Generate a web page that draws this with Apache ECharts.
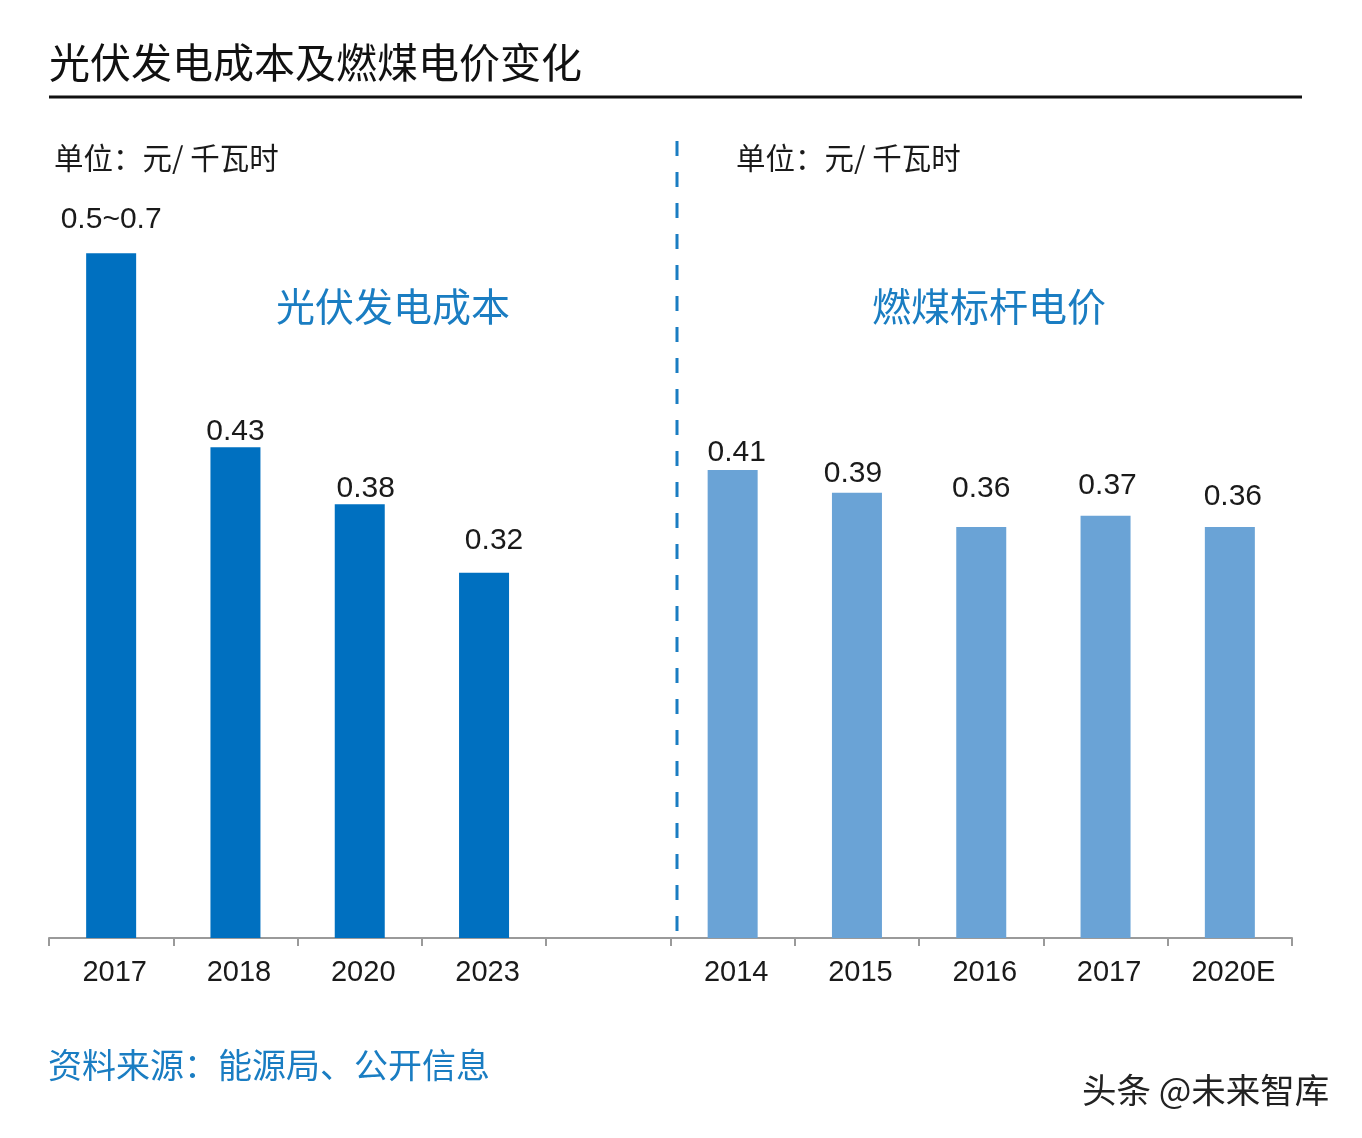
<!DOCTYPE html>
<html>
<head>
<meta charset="utf-8">
<script src="https://cdn.jsdelivr.net/npm/echarts@6/dist/echarts.min.js"></script>
<style>
html,body{margin:0;padding:0;background:#fff;}
#c{width:1362px;height:1138px;}
</style>
</head>
<body>
<div id="c"></div>
<script>
var categories = ['2017', '2018', '2020', '2023', '', '2014', '2015', '2016', '2017', '2020E'];
var pvCost = [0.6, 0.43, 0.38, 0.32];
var pvCostLabels = ['0.5~0.7', '0.43', '0.38', '0.32'];
var coalPrice = [0.41, 0.39, 0.36, 0.37, 0.36];
var coalPriceLabels = ['0.41', '0.39', '0.36', '0.37', '0.36'];

// label style nudges (distance above bar, horizontal offset)
var pvLabelDist = [18, 0, 1, 17];
var pvLabelDx = [0, 0, 6, 10];
var coalLabelDist = [2, 4, 23, 15, 15];
var coalLabelDx = [4, -4, 0, 2, 3];

var CJK = '"Noto Sans CJK SC", "Noto Sans", sans-serif';
var NUM = '"Liberation Sans", Arial, sans-serif';
var BLUE_TXT = '#1A7DC2';

var pvData = categories.map(function (c, i) {
  if (i < pvCost.length) {
    return {
      value: pvCost[i],
      label: { formatter: pvCostLabels[i], distance: pvLabelDist[i], offset: [pvLabelDx[i], 0] }
    };
  }
  return '-';
});
var coalStart = categories.length - coalPrice.length;
var coalData = categories.map(function (c, i) {
  var k = i - coalStart;
  if (k >= 0) {
    return {
      value: coalPrice[k],
      label: { formatter: coalPriceLabels[k], distance: coalLabelDist[k], offset: [coalLabelDx[k], 0] }
    };
  }
  return '-';
});

var chart = echarts.init(document.getElementById('c'), null, { renderer: 'canvas' });
chart.setOption({
  backgroundColor: '#ffffff',
  animation: false,
  grid: { left: 49, right: 70, top: 139, bottom: 200, containLabel: false },
  xAxis: {
    type: 'category',
    data: categories,
    axisLine: { show: true, lineStyle: { color: '#9a9a9a', width: 2 } },
    axisTick: { show: true, length: 8, lineStyle: { color: '#9a9a9a', width: 2 } },
    axisLabel: { color: '#1a1a1a', fontSize: 29, fontFamily: NUM, margin: 20, padding: [0, 0, 0, 7] },
    splitLine: { show: false }
  },
  yAxis: {
    type: 'value',
    min: 0,
    max: 0.7,
    show: false,
    splitLine: { show: false }
  },
  series: [
    {
      name: '光伏发电成本',
      type: 'bar',
      data: pvData,
      barWidth: 50,
      barGap: '-100%',
      itemStyle: { color: '#0070C0' },
      label: { show: true, position: 'top', color: '#1a1a1a', fontSize: 30, fontFamily: NUM }
    },
    {
      name: '燃煤标杆电价',
      type: 'bar',
      data: coalData,
      barWidth: 50,
      barGap: '-100%',
      itemStyle: { color: '#6AA3D6' },
      label: { show: true, position: 'top', color: '#1a1a1a', fontSize: 30, fontFamily: NUM }
    }
  ],
  graphic: [
    {
      type: 'text', left: 49, top: 42,
      style: { text: '光伏发电成本及燃煤电价变化', fill: '#111', font: '41px ' + CJK }
    },
    {
      type: 'line',
      shape: { x1: 49, y1: 97, x2: 1302, y2: 97 },
      style: { stroke: '#111', lineWidth: 3 }
    },
    {
      type: 'text', left: 54, top: 143,
      style: { text: '单位：元/ 千瓦时', fill: '#1a1a1a', font: '29.5px ' + CJK }
    },
    {
      type: 'text', left: 736, top: 143,
      style: { text: '单位：元/ 千瓦时', fill: '#1a1a1a', font: '29.5px ' + CJK }
    },
    {
      type: 'text', left: 276, top: 287,
      style: { text: '光伏发电成本', fill: BLUE_TXT, font: '39px ' + CJK }
    },
    {
      type: 'text', left: 872, top: 287,
      style: { text: '燃煤标杆电价', fill: BLUE_TXT, font: '39px ' + CJK }
    },
    {
      type: 'line',
      shape: { x1: 677, y1: 141, x2: 677, y2: 932 },
      style: { stroke: BLUE_TXT, lineWidth: 3, lineDash: [15, 16] }
    },
    {
      type: 'text', left: 48, top: 1048,
      style: { text: '资料来源：能源局、公开信息', fill: BLUE_TXT, font: '34px ' + CJK }
    },
    {
      type: 'text', left: 1082, top: 1073,
      style: { text: '头条 @未来智库', fill: '#222', font: '34.5px ' + CJK }
    }
  ]
});
</script>
</body>
</html>
